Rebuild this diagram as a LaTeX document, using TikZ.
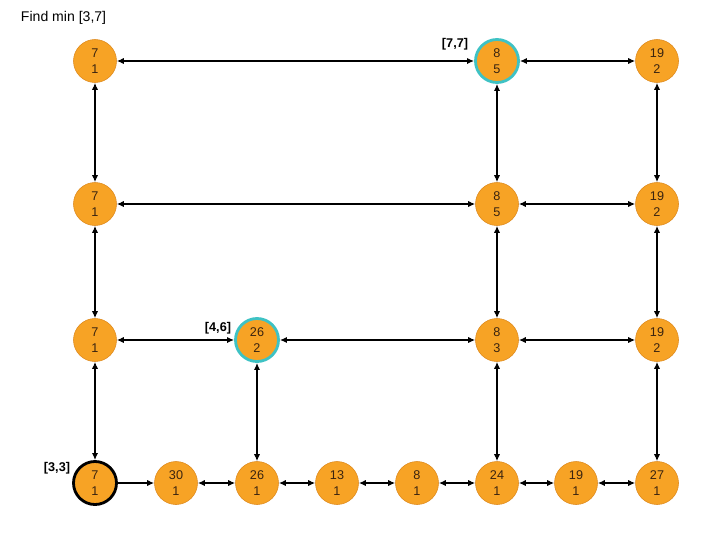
\documentclass[tikz,border=0pt]{standalone}
\usepackage{fontspec}
\setmainfont{Liberation Sans}
\usetikzlibrary{arrows.meta}
\definecolor{fillorg}{HTML}{F7A325}
\definecolor{edgeorg}{HTML}{DE8A1E}
\definecolor{hilite}{HTML}{3EC2C4}
\definecolor{ink}{HTML}{3A2410}

\begin{document}
\begin{tikzpicture}[x=0.025cm,y=-0.025cm,font=\fontsize{9}{11}\selectfont,>={Latex[length=5pt,width=4.5pt]}]
\tikzset{seg/.style={circle,draw=edgeorg,fill=fillorg,minimum size=1.075cm,inner sep=0pt,align=center,text=ink},
  hit/.style={seg,draw=hilite,line width=2pt},
  start/.style={seg,draw=black,line width=2pt},
  link/.style={<->,line width=1.4pt},
  tag/.style={font=\bfseries\fontsize{9}{11}\selectfont}}
\useasboundingbox (0,0) rectangle (720,540);

\node[anchor=west,font=\fontsize{10}{12}\selectfont] (title) at (16,18) {Find min [3,7]};

% top level
\node[seg] (a0) at (95,61) {7\\1};
\node[hit] (a5) at (497,61) {8\\5};
\node[seg] (a7) at (657,61) {19\\2};
% second level
\node[seg] (b0) at (95,204) {7\\1};
\node[seg] (b5) at (497,204) {8\\5};
\node[seg] (b7) at (657,204) {19\\2};
% third level
\node[seg] (c0) at (95,340) {7\\1};
\node[hit] (c2) at (257,340) {26\\2};
\node[seg] (c5) at (497,340) {8\\3};
\node[seg] (c7) at (657,340) {19\\2};
% bottom level
\node[start] (d0) at (95,483) {7\\1};
\foreach \x/\v [count=\i] in {176/30,257/26,337/13,417/8,497/24,576/19,657/27}{
  \node[seg] (d\i) at (\x,483) {\v\\1};
}

\node[tag] (l77) at (455,44) {[7,7]};
\node[tag] (l46) at (218,328) {[4,6]};
\node[tag] (l33) at (57,468) {[3,3]};

\draw[link] (a0)--(a5);
\draw[link] (a5)--(a7);
\draw[link] (b0)--(b5);
\draw[link] (b5)--(b7);
\draw[link] (c0)--(c2);
\draw[link] (c2)--(c5);
\draw[link] (c5)--(c7);
\draw[->,line width=1.4pt] (d0)--(d1);
\foreach \i in {1,...,6}{
  \pgfmathtruncatemacro{\j}{\i+1}
  \draw[link] (d\i)--(d\j);
}
\foreach \c in {0,5,7}{
  \draw[link] (a\c)--(b\c);
  \draw[link] (b\c)--(c\c);
  \draw[link] (c\c)--(d\c);
}
\draw[link] (c2)--(d2);
\end{tikzpicture}
\end{document}
